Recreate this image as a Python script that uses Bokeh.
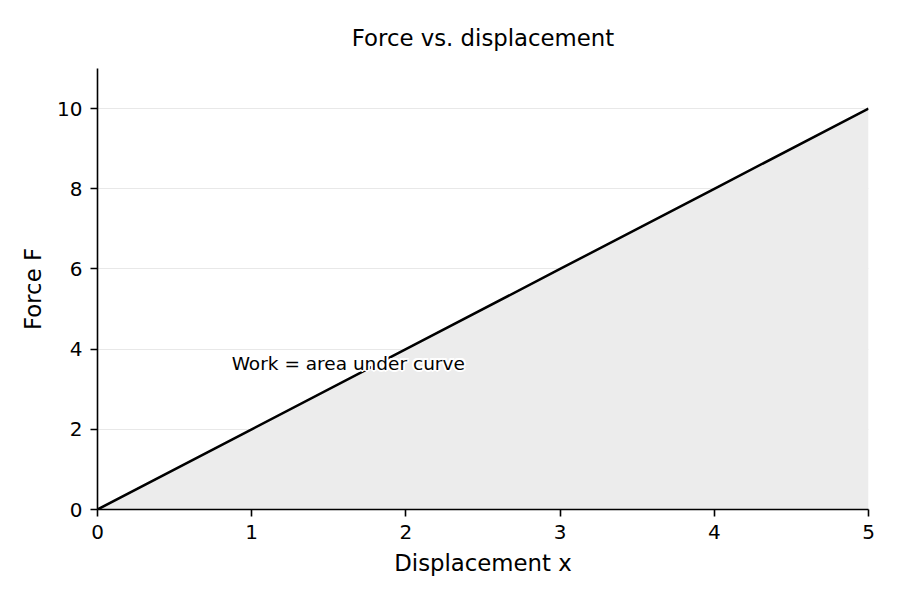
from bokeh.plotting import figure
from bokeh.models import ColumnDataSource, Range1d, Label, FixedTicker
from bokeh.embed import file_html
from bokeh.resources import INLINE

# data
displacement = [0, 1, 2, 3, 4, 5]
force = [0, 2, 4, 6, 8, 10]
x_ticks = [0, 1, 2, 3, 4, 5]
y_ticks = [0, 2, 4, 6, 8, 10]
note = "Work = area under curve"

FONT = "DejaVu Sans"

src = ColumnDataSource(data=dict(x=displacement, f=force, zero=[0] * len(force)))

p = figure(width=900, height=600, output_backend="svg", toolbar_location=None,
           title="Force vs. displacement",
           x_range=Range1d(0, 5), y_range=Range1d(0, 11),
           min_border_left=97, min_border_right=32, min_border_top=68, min_border_bottom=91)

p.outline_line_color = None
p.background_fill_color = "white"

p.title.align = "center"
p.title.text_font = FONT
p.title.text_font_size = "22.8px"
p.title.text_font_style = "normal"
p.title.text_color = "black"
p.title.standoff = 35

# area under curve + line
p.varea(x="x", y1="zero", y2="f", source=src, fill_color="#ececec")
p.line(x="x", y="f", source=src, line_color="black", line_width=2.5)

# grid
p.xgrid.grid_line_color = None
p.ygrid.grid_line_color = "#e8e8e8"
p.ygrid.grid_line_width = 1
p.ygrid.ticker = FixedTicker(ticks=y_ticks)

for ax, ticks, lbl in ((p.xaxis[0], x_ticks, "Displacement x"), (p.yaxis[0], y_ticks, "Force F")):
    ax.ticker = FixedTicker(ticks=ticks)
    ax.axis_label = lbl
    ax.axis_label_text_font = FONT
    ax.axis_label_text_font_size = "22.8px"
    ax.axis_label_text_font_style = "normal"
    ax.axis_label_text_color = "black"
    ax.major_label_text_font = FONT
    ax.major_label_text_font_size = "20px"
    ax.major_label_text_color = "black"
    ax.axis_line_color = "black"
    ax.axis_line_width = 1.6
    ax.major_tick_line_color = "black"
    ax.major_tick_line_width = 1.6
    ax.major_tick_in = 0
    ax.major_tick_out = 7
    ax.minor_tick_line_color = None
    ax.major_label_standoff = 8
    ax.axis_label_standoff = 8

# annotation with a white halo behind it
halo = [(-2, 0), (2, 0), (0, -2), (0, 2), (-1.5, -1.5), (1.5, -1.5), (-1.5, 1.5), (1.5, 1.5)]
for dx, dy in halo:
    p.add_layout(Label(x=0.87, y=3.65, text=note, text_font=FONT, text_font_size="18.5px",
                       text_color="white", text_baseline="middle", text_align="left",
                       x_offset=dx, y_offset=dy))
p.add_layout(Label(x=0.87, y=3.65, text=note, text_font=FONT, text_font_size="18.5px",
                   text_color="black", text_baseline="middle", text_align="left"))

open("out.html", "w").write(file_html(p, INLINE))
